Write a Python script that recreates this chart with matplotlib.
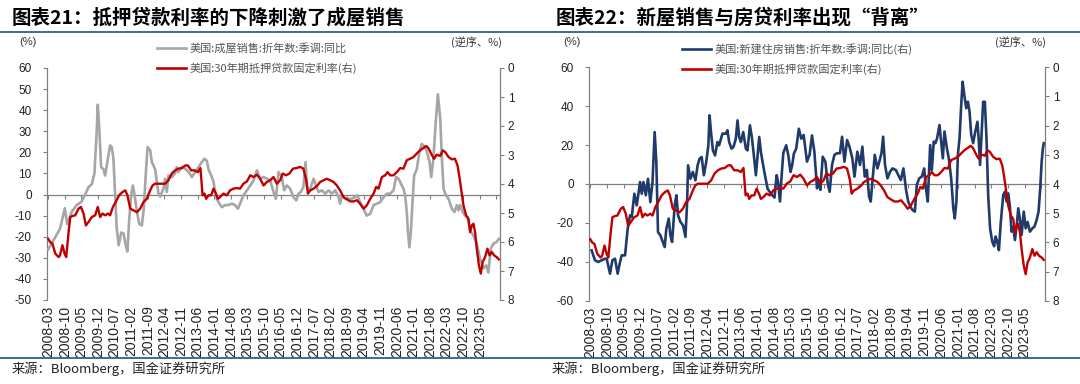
import matplotlib
matplotlib.use('Agg')
import matplotlib.pyplot as plt
from matplotlib.lines import Line2D
import numpy as np

plt.rcParams['font.family'] = ['Liberation Sans', 'Noto Sans CJK SC', 'DejaVu Sans']
plt.rcParams['axes.unicode_minus'] = False

# ---------------- data ----------------
tick_labels = ['2008-03', '2008-10', '2009-05', '2009-12', '2010-07', '2011-02', '2011-09',
               '2012-04', '2012-11', '2013-06', '2014-01', '2014-08', '2015-03', '2015-10',
               '2016-05', '2016-12', '2017-07', '2018-02', '2018-09', '2019-04', '2019-11',
               '2020-06', '2021-01', '2021-08', '2022-03', '2022-10', '2023-05']
tick_step = 7  # months between labels

# US existing home sales, SAAR, YoY (%)  -- x: months since 2008-03
hs_x = [0, 3, 5, 7, 8, 10, 12, 14, 15.6, 17, 18.4, 19.5, 20.5, 20.9, 21.6, 22.3, 23.3, 24, 25.2, 26.1,
        26.8, 27.5, 28.2, 28.9, 29.7, 30.8, 31.8, 32.5, 33.4, 34.1, 35, 35.7, 36.4, 37.4, 38.4, 39.5,
        40.3, 41.2, 41.9, 43, 43.7, 45.1, 45.8, 46.5, 47.2, 48.6, 49.3, 50, 50.7, 52.1, 53.5, 54.2,
        54.9, 56.4, 57.8, 59.2, 60.6, 62, 63.4, 64.8, 65.9, 66.9, 67.6, 69, 69.7, 70.4, 71.1, 71.8,
        73.2, 74.6, 76, 77.4, 78.8, 80, 80.9, 82.3, 83.8, 85.2, 86.6, 88, 89.4, 90.8, 92.2, 93.6, 95,
        96, 97.1, 98.5, 99.5, 100.6, 102, 103.4, 104.6, 105.5, 106.5, 107.6, 108.5, 109.1, 109.8,
        110.5, 111.9, 112.9, 114, 115.4, 116.8, 118.2, 119.6, 121, 122.4, 123.1, 123.8, 125.2, 126.6,
        128, 129.4, 130.4, 131.5, 132.9, 134.3, 135.8, 137.2, 138.6, 140, 141.4, 142.8, 144.2, 145.6,
        146.7, 147.7, 149.1, 149.8, 150.5, 151.2, 151.7, 152.3, 152.9, 153.6, 154.3, 155.4, 156.5,
        157.5, 158.9, 159.9, 160.8, 161.5, 162.4, 163.4, 164.3, 165.3, 166, 166.7, 167.4, 168.8,
        170.2, 171.3, 172.3, 173, 173.7, 174.8, 175.8, 176.8, 177.9, 179.3, 180.7, 182.1, 183.5,
        184.7, 185.6, 186.6, 187.7, 189.1, 190]
hs_y = [-26, -20.2, -16.2, -6.5, -14, -8, -5, -3.5, 0, 3.5, 5, 10, 31, 42.6, 30, 13, 12, 9, 17, 23.3,
        22.5, 17, 1, -16, -24, -18, -18.5, -23, -27, -13, 0, 4.3, 0, -8, -14, -14.6,
        -6.7, 10.7, 22.5, 21, 15.4, 12, 6, 0.4, -1, 2.8, 7.5, 1.2, 9, 8.3, 10, 13,
        10.7, 13, 12.2, 10.7, 8.3, 10.7, 13, 15.4, 17, 16, 12, 8.3, 6, 1.2, -2, -3.6,
        -6, -5, -5, -4.3, -5, -6.7, -4.3, -0.4, 2, 4.3, 6.7, 11.5, 7.5, 8.3, 7.5, 6.7, 1.2,
        -2, 10.7, 8.3, 2, 4.3, 2.8, -1.2, -2.8, 0.4, 1.2, 3.6, 15.4, 4.3, 1.2,
        2.8, 7.5, 4.3, 1.2, 2, 0.4, 2, 0.4, 2, -1.2, -4.3, -0.4, -2, -2,
        -2, -1.2, -0.4, -3.6, -6.7, -10, -9.1, -5, -4.3, -3.6, -1.2, 0.4, 0.4, 2,
        8.3, 7.5, 4.3, 2.8, -0.4, -8.3, -18, -25, -18, -3.6, 9, 12, 20,
        24, 22.5, 19.4, 15.4, 8.3, 17, 34, 47.5, 36, 17, 2.8, 0.4, -2,
        -6.7, -8.3, -5, -7.5, -5, -8.3, -10, -10.7, -17, -19.4, -23.3, -30.4, -35,
        -33.6, -37, -25.7, -23.3, -22.5, -21]

# US 30-year fixed mortgage rate (%)
rate_x = [0, 0.8, 1.8, 3, 4.4, 5, 6, 6.9, 7.6, 8.6, 9.3, 10.3, 11.4, 12.8, 13.8, 14.9, 15.9, 17, 18.4,
          19.8, 20.9, 21.9, 22.9, 24, 25.2, 26.1, 27.3, 28.5, 29.9, 31.3, 32.5, 33.4, 34.6, 36, 37.4,
          38.8, 40.2, 41.6, 43, 44, 45.1, 46.5, 47.9, 49.3, 50.7, 52.1, 53.5, 54.9, 56.4, 57.8, 58.9,
          60.3, 61.7, 63.1, 64.2, 65.1, 65.9, 66.6, 67.6, 68.7, 69.7, 70.7, 71.5, 72.5, 73.9, 75.3,
          76.7, 78.1, 79.5, 80.9, 82.3, 83.8, 85.2, 86.6, 88, 89.4, 90.8, 92.2, 93.6, 95, 96.4, 97.8,
          98.9, 100.3, 101.7, 103.2, 104.8, 106.2, 107.6, 108.8, 109.5, 110.5, 111.9, 113.3, 114.7,
          116.1, 117.5, 118.9, 120.3, 121.7, 123.1, 124.5, 126, 127.4, 128.8, 130.2, 131.5, 133,
          134.3, 135.8, 137.2, 138.3, 139.3, 140.7, 142.1, 143.1, 144.2, 145.6, 147, 148.4, 149.8,
          151.2, 152.6, 154, 155.4, 156.8, 158.2, 159.4, 160.3, 161.8, 162.7, 163.8, 165.3, 166.4,
          167.4, 168.8, 170.2, 171.5, 172.6, 173.4, 174.4, 175.1, 176.2, 177.2, 177.9, 178.6, 179.3,
          180, 180.7, 181.6, 182.4, 183.2, 184.2, 185.2, 186.1, 187, 188, 189.1, 190]
rate_y = [5.89, 6.0, 6.06, 6.4, 6.52, 6.46, 6.11, 6.4, 6.52, 5.66, 5.14, 5.1, 5.08, 4.85, 4.79, 5.02,
          5.43, 5.31, 5.14, 5.08, 4.79, 5.14, 5.02, 5.08, 5.02, 5.08, 4.79, 4.62, 4.39, 4.28, 4.22,
          4.39, 4.85, 4.91, 4.97, 4.85, 4.62, 4.51, 4.22, 4.05, 3.99, 3.99, 3.99, 3.99, 3.87, 3.64,
          3.53, 3.47, 3.45, 3.36, 3.36, 3.53, 3.53, 3.59, 3.45, 4.39, 4.33, 4.51, 4.39, 4.39, 4.16,
          4.33, 4.51, 4.45, 4.33, 4.39, 4.22, 4.16, 4.14, 4.16, 3.99, 3.91, 3.70, 3.76, 3.68, 3.82,
          4.05, 3.93, 3.87, 3.76, 3.99, 3.87, 3.64, 3.70, 3.64, 3.47, 3.45, 3.41, 3.47, 3.87, 4.33,
          4.22, 4.16, 4.07, 3.93, 3.87, 3.82, 3.87, 3.93, 4.05, 4.22, 4.45, 4.53, 4.60, 4.60, 4.56,
          4.68, 4.85, 4.74, 4.51, 4.33, 4.1, 4.16, 3.76, 3.70, 3.59, 3.70, 3.70, 3.59, 3.45, 3.47,
          3.18, 3.13, 3.07, 2.95, 2.84, 2.76, 2.69, 2.76, 3.01, 3.13, 2.99, 3.03, 2.84, 2.90, 3.07,
          3.15, 3.13, 3.36, 3.76, 4.33, 4.74, 5.08, 5.20, 5.66, 5.43, 5.37, 5.66, 6.23, 6.8, 7.09,
          6.69, 6.52, 6.23, 6.46, 6.34, 6.46, 6.52, 6.6]

# US new home sales, SAAR, YoY (%)
nhs_x = [0.6, 2, 3.4, 4.8, 6.2, 6.9, 8.3, 9.3, 10.4, 11.5, 12.5, 13.2, 14.6, 15.7, 16.7, 17.4, 18.5,
         19.5, 20.9, 21.6, 22.3, 23.3, 24.2, 25.2, 26.1, 27, 27.7, 28.4, 29.4, 30.4, 31.2, 31.9, 32.9,
         33.6, 34.3, 35.4, 36.1, 36.8, 37.8, 38.9, 39.9, 40.6, 41, 42, 43, 44.1, 45, 45.8, 46.7, 47.6,
         48.6, 49.5, 50, 50.6, 51.4, 52.3, 53.3, 54, 55.4, 56.8, 57.5, 58.2, 59.2, 60, 61, 61.7, 62.4,
         63.1, 64.1, 65.2, 65.9, 66.9, 67.7, 68.4, 69.4, 70.8, 71.5, 72.2, 73.2, 74.3, 75.7, 77.2,
         78.1, 78.7, 79.5, 80.3, 80.9, 82.1, 83, 83.9, 84.6, 85.3, 86.3, 87.4, 88.4, 89.4, 90.8, 91.9,
         92.9, 93.9, 95, 95.7, 96.4, 97.4, 98.5, 99.5, 100.3, 101.3, 102.3, 103.4, 104.6, 105.5,
         106.5, 107.6, 108.6, 109.8, 110.7, 111.9, 113, 114, 115, 115.9, 116.8, 117.5, 118.2, 119.2,
         120.3, 121.1, 122, 122.7, 123.5, 124.5, 125.6, 126.6, 128, 129.4, 130.1, 131.2, 132.3,
         133.2, 134.1, 135, 136, 136.8, 137.8, 138.9, 139.9, 140.6, 141.4, 142.4, 143.1, 143.9,
         144.6, 145.3, 146.3, 147, 147.7, 148.4, 149.4, 150.2, 151.2, 152.1, 152.7, 153.4, 154,
         154.7, 155.4, 156, 156.6, 157.5, 158.2, 158.9, 159.6, 160.4, 161.3, 162.2, 162.7, 163.3,
         163.9, 164.6, 165.3, 166, 166.7, 167.5, 168.4, 169.2, 169.8, 170.5, 171.2, 172, 173, 173.7,
         174.4, 175.1, 175.8, 176.5, 177.2, 177.9, 178.6, 179.3, 180, 180.7, 181.6, 182.4, 183.2,
         184.2, 185.2, 186.1, 187, 187.8, 188.5, 189.1, 189.6, 190]
nhs_y = [-34.1, -39.2, -40.1, -39.2, -38.4, -38.4, -46.1, -39.2, -38.4, -46.1, -40.1, -36.7, -36.7,
         -23, -16.1, -17, -5, -11, 1, -5, 1, -5.8, 2.7, -9.3, 1, 26.7, 11.3, -24.7, -26.4, -29.8,
         -32.4, -23, -17.8, -26.4, -29.8, -11, -5.8, -16.1, -19.5, -21.3, -27.2, -9.3, 9.6, 2.7, 6.2,
         1.9, 9.6, 13, 13.9, 4.5, 11.3, 19.9, 35.3, 26.7, 17.3, 14.7, 21.6, 19.9, 25.9, 25.9, 27.6,
         21.6, 18.2, 19, 23.3, 32.7, 24.2, 21.6, 26.7, 18.2, 17.3, 30.2, 24.2, 16.5, 4.5, 24.2, 16.5,
         11.3, 4.5, -2.4, -5, -7, 4.5, 1, -9, 6.2, 16, 19.9, 14.7, 6.2, 9.6, 15.6, 18.2, 28.4, 23.3,
         25.2, 11.5, 15, 25, 16.6, -2.2, 2, -3, 14, 11.5, 0.3, -4, 9.8, 15, 15.8, 15.8, 24.3, 11.5,
         22.6, 19.2, 13.2, 3.8, 16.6, 9.8, 19.2, 3.8, 7.2, -6.5, -9, 1.2, 15, 8, 11.5, 15.8, 24.3,
         9.8, 2.9, 6.3, 8, 7.2, 3.8, 2, 8, -3, -9, -11.6, -13.4, -14.2, -0.5, 2.9, 3.8, 8, -2.2, -9,
         20, 7.2, 21.8, 21, 23.5, 30.3, 21.8, 13.2, 27, 18.4, 13.2, 2.9, -12.5, -17.7, -9, 15, 23.5,
         40.6, 52.6, 46.6, 39, 42.3, 37.2, 25.2, 21, 27, 32, 23.5, 9.8, 25.2, 42.3, 42.3, 23.5, -5.7,
         -22.8, -29.6, -32, -27, -29.6, -34, -19.4, -5.7, -4, -9, -4.8, -11.6, -24.5, -22, -28.8,
         -22, -12.5, -18, -26.2, -14.2, -22.8, -19.5, -24.5, -22.8, -21.9, -18.5, -14.2, -2.2, 11.5,
         18.3, 21]

titles = ['图表21：抵押贷款利率的下降刺激了成屋销售', '图表22：新屋销售与房贷利率出现“背离”']
legend_left = ['美国:成屋销售:折年数:季调:同比', '美国:30年期抵押贷款固定利率(右)']
legend_right = ['美国:新建住房销售:折年数:季调:同比(右)', '美国:30年期抵押贷款固定利率(右)']
source_text = '来源：Bloomberg，国金证券研究所'

# ---------------- style ----------------
W, H = 1080, 384
GRAY = '#A6A6A6'
RED = '#C00000'
BLUE = '#1F3A6B'
AXC = '#808080'
RULE = '#2F5F8F'
CJK = ['Noto Sans CJK SC', 'DejaVu Sans']

fig = plt.figure(figsize=(W / 100, H / 100), dpi=100)

def fx(px):
    return px / W

def fy(py):
    return 1 - py / H

tick_pos = np.arange(len(tick_labels)) * tick_step
tick_marks = np.arange(0, 190, tick_step)


def setup(ax, axr, ylim, yticks, lpad):
    ax.set_xlim(-0.5, 190.5)
    ax.set_ylim(*ylim)
    ax.set_yticks(yticks)
    axr.set_ylim(8, 0)
    axr.set_yticks(np.arange(0, 9, 1))
    for a in (ax, axr):
        a.spines['top'].set_visible(False)
        a.spines['bottom'].set_visible(False)
    ax.spines['right'].set_visible(False)
    axr.spines['left'].set_visible(False)
    ax.spines['left'].set_color(AXC)
    axr.spines['right'].set_color(AXC)
    ax.spines['left'].set_linewidth(0.9)
    axr.spines['right'].set_linewidth(0.9)
    ax.tick_params(axis='y', direction='out', length=3, width=0.8, color=AXC,
                   labelsize=8.5, pad=lpad, labelcolor='#222222')
    axr.tick_params(axis='y', direction='out', length=3, width=0.8, color=AXC,
                    labelsize=8.5, pad=2.5, labelcolor='#222222')
    ax.set_xticks(tick_pos)
    ax.set_xticklabels(tick_labels, rotation=90, fontsize=10, color='#222222')
    ax.tick_params(axis='x', length=0, pad=4)
    ax.axhline(0, color=AXC, lw=0.9, zorder=1)
    ax.plot(tick_marks, np.zeros(len(tick_marks)), ls='none', marker=3, ms=3,
            mew=0.8, color=AXC, zorder=1, clip_on=False)
    ax.patch.set_visible(False)


# ---------------- left chart ----------------
ax1 = fig.add_axes([fx(47), fy(300), fx(453), 232 / H])
ax1r = ax1.twinx()
setup(ax1, ax1r, (-50, 60), np.arange(-50, 61, 10), 8)
ax1.plot(hs_x, hs_y, color=GRAY, lw=1.9, zorder=3, solid_joinstyle='round')
ax1r.plot(rate_x, rate_y, color=RED, lw=1.7, zorder=4, solid_joinstyle='round')

# ---------------- right chart ----------------
ax2 = fig.add_axes([fx(589), fy(300.7), fx(456), 233.4 / H])
ax2r = ax2.twinx()
setup(ax2, ax2r, (-60, 60), np.arange(-60, 61, 20), 8)
ax2.plot(nhs_x, nhs_y, color=BLUE, lw=1.9, zorder=3, solid_joinstyle='round')
ax2r.plot(rate_x, rate_y, color=RED, lw=1.7, zorder=4, solid_joinstyle='round')

# ---------------- legends ----------------
h_left = [Line2D([], [], color=GRAY, lw=1.9), Line2D([], [], color=RED, lw=1.9)]
h_right = [Line2D([], [], color=BLUE, lw=1.9), Line2D([], [], color=RED, lw=1.9)]
for handles, labels, x0 in ((h_left, legend_left, 157), (h_right, legend_right, 682)):
    leg = fig.legend(handles, labels, loc='upper left', bbox_to_anchor=(fx(x0), fy(43)),
                     frameon=False, handlelength=2.6, handletextpad=0.3, labelspacing=0.75,
                     borderpad=0, borderaxespad=0, prop={'family': CJK, 'size': 8})
    for t in leg.get_texts():
        t.set_color('#555555')

# ---------------- axis unit labels ----------------
for px in (28, 572):
    fig.text(fx(px), fy(42), '(%)', ha='center', va='center', fontsize=8, color='#333333')
for px in (477, 1021):
    fig.text(fx(px), fy(42), '(逆序、%)', ha='center', va='center', fontsize=8,
             color='#333333', family=CJK)

# ---------------- titles, rules, source ----------------
for px, t in ((12, titles[0]), (556, titles[1])):
    fig.text(fx(px), fy(18), t, ha='left', va='center', fontsize=14, fontweight='bold',
             style='italic', family=CJK, color='black')

for py in (32, 357.5):
    fig.add_artist(Line2D([0, 1], [fy(py), fy(py)], color=RULE, lw=1.3))

for px in (12, 552):
    fig.text(fx(px), fy(369), source_text, ha='left', va='center', fontsize=9.5,
             family=CJK, color='#222222')

fig.savefig('out.png', dpi=100)
